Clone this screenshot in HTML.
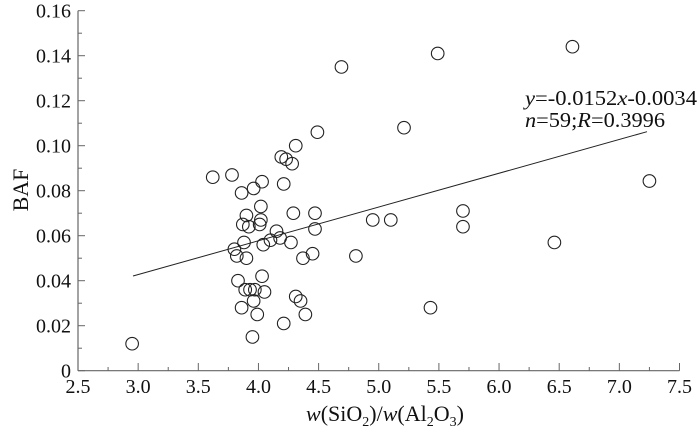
<!DOCTYPE html>
<html><head><style>body{margin:0;background:#fff}svg{display:block}</style></head><body>
<svg width="700" height="433" xmlns="http://www.w3.org/2000/svg" font-family="Liberation Serif, serif" fill="none">
<g stroke="#666" stroke-width="1.2">
<line x1="78" y1="10.7" x2="78" y2="370.7"/>
<line x1="78" y1="370.7" x2="679.5" y2="370.7"/>
</g>
<g id="ticks" stroke="#666" stroke-width="1"></g>
<g font-size="20" fill="#111" text-anchor="end" id="yl"></g>
<g font-size="20" fill="#111" text-anchor="middle" id="xl"></g>
<text x="385" y="421" font-size="22" fill="#111" text-anchor="middle"><tspan font-style="italic">w</tspan>(SiO<tspan font-size="14" dy="5">2</tspan><tspan dy="-5">)/</tspan><tspan font-style="italic">w</tspan>(Al<tspan font-size="14" dy="5">2</tspan><tspan dy="-5">O</tspan><tspan font-size="14" dy="5">3</tspan><tspan dy="-5">)</tspan></text>
<text transform="translate(28,190) rotate(-90)" font-size="22" fill="#111" text-anchor="middle">BAF</text>
<text x="525" y="105" font-size="21" fill="#111" textLength="172" lengthAdjust="spacingAndGlyphs"><tspan font-style="italic">y</tspan>=-0.0152<tspan font-style="italic">x</tspan>-0.0034</text>
<text x="525" y="127" font-size="21" fill="#111" textLength="140" lengthAdjust="spacingAndGlyphs"><tspan font-style="italic">n</tspan>=59;<tspan font-style="italic">R</tspan>=0.3996</text>
<line x1="133" y1="276" x2="647" y2="131.7" stroke="#222" stroke-width="1"/>
<g id="pts" stroke="#222" stroke-width="1.1" fill="none"></g>
</svg>
<script>
const X=v=>78+(v-2.5)*120.3, Y=v=>370.7-v*2250;
const NS="http://www.w3.org/2000/svg";
const t=document.getElementById('ticks'),yl=document.getElementById('yl'),xl=document.getElementById('xl');
function el(p,n,a,txt){const e=document.createElementNS(NS,n);for(const k in a)e.setAttribute(k,a[k]);if(txt)e.textContent=txt;p.appendChild(e);}
for(let i=0;i<=16;i++){const y=Y(i*0.01);el(t,'line',{x1:78,x2:i%2?82:85,y1:y,y2:y});
 if(i%2==0)el(yl,'text',{x:71,y:y+7},i==0?'0':(i*0.01).toFixed(2));}
for(let i=0;i<=20;i++){const x=X(2.5+i*0.25);el(t,'line',{x1:x,x2:x,y1:370.7,y2:i%2?367:363});
 if(i%2==0)el(xl,'text',{x:x,y:393},(2.5+i*0.25).toFixed(1));}
const P=[[2.95,0.012],[3.62,0.086],[3.78,0.087],[3.80,0.054],[3.82,0.051],[3.83,0.040],[3.86,0.028],[3.86,0.079],[3.87,0.065],[3.88,0.057],[3.89,0.036],[3.90,0.069],[3.90,0.050],[3.92,0.064],[3.93,0.036],[3.95,0.015],[3.96,0.031],[3.96,0.081],[3.97,0.036],[3.99,0.025],[4.01,0.065],[4.02,0.067],[4.02,0.073],[4.03,0.084],[4.03,0.042],[4.04,0.056],[4.05,0.035],[4.10,0.058],[4.15,0.062],[4.18,0.059],[4.19,0.095],[4.21,0.083],[4.21,0.021],[4.23,0.094],[4.27,0.057],[4.28,0.092],[4.29,0.070],[4.31,0.100],[4.31,0.033],[4.35,0.031],[4.37,0.050],[4.39,0.025],[4.45,0.052],[4.47,0.070],[4.47,0.063],[4.49,0.106],[4.69,0.135],[4.81,0.051],[4.95,0.067],[5.10,0.067],[5.21,0.108],[5.43,0.028],[5.49,0.141],[5.70,0.071],[5.70,0.064],[6.46,0.057],[6.61,0.144],[7.25,0.0843]];
const g=document.getElementById('pts');P.forEach(p=>el(g,'circle',{cx:X(p[0]),cy:Y(p[1]),r:6.3}));
</script>
</body></html>
